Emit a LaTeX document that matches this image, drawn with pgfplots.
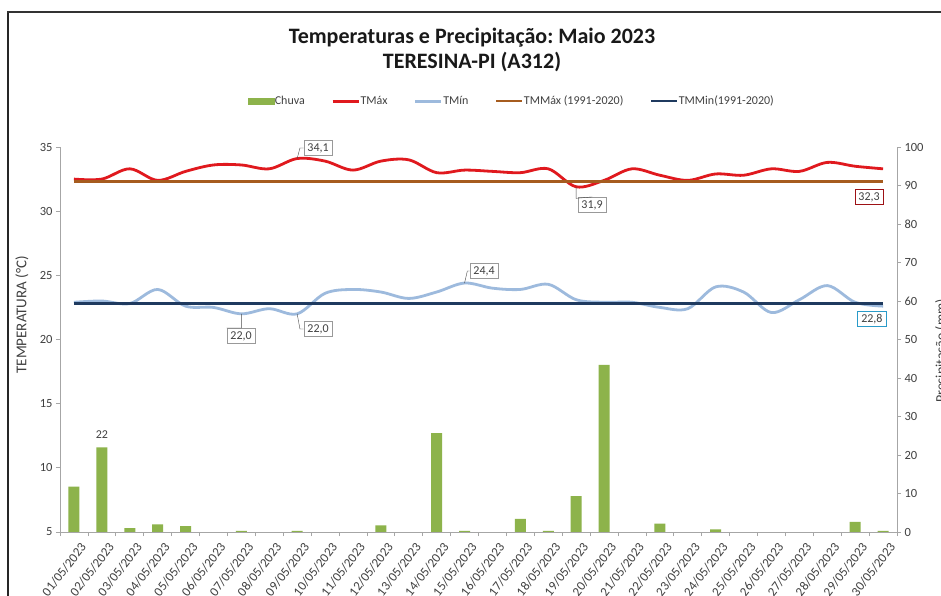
\documentclass[border=0pt]{standalone}
\usepackage{fontspec}
\setmainfont{Carlito}
\usepackage{pgfplots}
\usepackage{pgfplotstable}
\pgfplotsset{compat=1.18}
\frenchspacing

\definecolor{chuva}{HTML}{8DB34B}
\definecolor{tmax}{HTML}{E0191E}
\definecolor{tmin}{HTML}{9DBADD}
\definecolor{tmmax}{HTML}{A65C1F}
\definecolor{tmmin}{HTML}{1F3A5F}
\definecolor{eixo}{HTML}{A6A6A6}
\definecolor{txt}{HTML}{404040}

% dia, chuva (mm), TMax, TMin
\pgfplotstableread{
dia chuva tmax tmin
1  11.8 32.5 22.9
2  22.0 32.5 23.0
3  1.0  33.3 22.8
4  2.0  32.4 23.9
5  1.5  33.1 22.6
6  0.0  33.6 22.5
7  0.3  33.6 22.0
8  0.0  33.3 22.4
9  0.3  34.1 22.0
10 0.0  33.9 23.6
11 0.0  33.2 23.9
12 1.7  33.9 23.7
13 0.0  34.0 23.2
14 25.7 33.0 23.7
15 0.3  33.2 24.4
16 0.0  33.1 24.0
17 3.4  33.0 23.9
18 0.3  33.3 24.3
19 9.3  31.9 23.1
20 43.4 32.4 22.9
21 0.0  33.3 22.9
22 2.2  32.8 22.5
23 0.0  32.4 22.4
24 0.7  32.9 24.1
25 0.0  32.8 23.7
26 0.0  33.3 22.1
27 0.0  33.1 23.1
28 0.0  33.8 24.2
29 2.6  33.5 22.9
30 0.3  33.3 22.6
}\dados

\pgfplotsset{
  base/.style={
    at={(60pt,63pt)}, anchor=south west,
    scale only axis, width=837pt, height=385pt,
    xmin=0.5, xmax=30.5,
    tick align=outside,
    major tick length=4pt, minor tick length=4pt,
    tick style={eixo, line width=0.8pt},
    axis line style={eixo, line width=0.9pt},
    tick label style={font=\fontsize{12.5}{14}\selectfont, text=txt},
    /pgf/number format/assume math mode=true,
    clip=false,
  },
}
\tikzset{
  rotulo/.style={draw=gray!80, fill=white, font=\fontsize{12}{14}\selectfont,
    text=txt, inner xsep=3.5pt, inner ysep=3pt, line width=0.8pt},
}

\begin{document}
\begin{tikzpicture}
\useasboundingbox (0pt,0pt) rectangle (941pt,595pt);
\fill[white] (0pt,0pt) rectangle (941pt,595pt);
\draw[line width=2.5pt, black!85] (8pt,-2pt) -- (8pt,583pt);
\draw[line width=1.5pt, black!80] (7pt,583pt) -- (943pt,583pt);

\node[font=\bfseries\fontsize{22}{26}\selectfont, text=black!90] at (472pt,557pt)
  {Temperaturas e Precipitação: Maio 2023};
\node[font=\bfseries\fontsize{22}{26}\selectfont, text=black!90] at (472pt,533pt)
  {TERESINA-PI (A312)};

% eixo secundario: precipitacao
\begin{axis}[base,
  ymin=0, ymax=100,
  hide x axis,
  axis y line*=right,
  ytick={0,10,...,100},
  every axis y label/.style={at={(axis description cs:1.053,0.47)}, anchor=center, rotate=90},
  ylabel={\fontsize{14}{16}\selectfont\color{txt}Precipitação (mm)},
]
\addplot[ybar, bar width=11pt, fill=chuva, draw=none] table[x=dia, y=chuva] {\dados};
\node[font=\fontsize{12}{14}\selectfont, text=txt] at (axis cs:2,25.4) {22};
\end{axis}

% eixo principal: temperaturas
\begin{axis}[base,
  ymin=5, ymax=35,
  axis y line*=left, axis x line*=bottom,
  ytick={5,10,...,35},
  xtick={1,...,30},
  xticklabels={01/05/2023,02/05/2023,03/05/2023,04/05/2023,05/05/2023,06/05/2023,
    07/05/2023,08/05/2023,09/05/2023,10/05/2023,11/05/2023,12/05/2023,13/05/2023,
    14/05/2023,15/05/2023,16/05/2023,17/05/2023,18/05/2023,19/05/2023,20/05/2023,
    21/05/2023,22/05/2023,23/05/2023,24/05/2023,25/05/2023,26/05/2023,27/05/2023,
    28/05/2023,29/05/2023,30/05/2023},
  x tick label style={rotate=52, anchor=north east, inner sep=1pt, yshift=-7pt,
    font=\fontsize{13}{15}\selectfont},
  major x tick style={draw=none},
  minor xtick={0.5,1.5,...,30.5},
  every axis y label/.style={at={(axis description cs:-0.0454,0.564)}, anchor=center, rotate=90},
  ylabel={\fontsize{15}{17}\selectfont\color{txt}TEMPERATURA (°C)},
  legend columns=5,
  legend style={draw=none, fill=none, at={(axis description cs:0.539,1.119)}, anchor=center,
    font=\fontsize{12}{14}\selectfont, text=txt,
    nodes={inner sep=0.5pt},
    /tikz/every even column/.append style={column sep=26pt}},
  legend image code/.code={\draw[#1] (0pt,0pt) -- (26pt,0pt);},
]
\addlegendimage{legend image code/.code={\fill[chuva] (0pt,-3pt) rectangle (26pt,3pt);}}
\addlegendentry{Chuva}
\addplot[tmax, line width=2.8pt, smooth, tension=0.55] table[x=dia, y=tmax] {\dados};
\addlegendentry{TMáx}
\addplot[tmin, line width=2.8pt, smooth, tension=0.55] table[x=dia, y=tmin] {\dados};
\addlegendentry{TMín}
\addplot[tmmax, line width=2.4pt] coordinates {(1,32.3) (30,32.3)};
\addlegendentry{TMMáx (1991-2020)}
\addplot[tmmin, line width=2.4pt] coordinates {(1,22.8) (30,22.8)};
\addlegendentry{TMMin(1991-2020)}

\node[rotulo] (a) at (axis cs:9.75,34.92) {34,1};
\draw[gray!60!black, thin] (axis cs:9,34.1) -- (axis cs:9.1,34.92) -- (a.west);
\node[rotulo] (b) at (axis cs:6.99,20.27) {22,0};
\draw[gray!60!black, thin] (axis cs:7,22.0) -- (axis cs:7,20.9) -- (b.north west);
\node[rotulo] (c) at (axis cs:9.75,20.82) {22,0};
\draw[gray!60!black, thin] (axis cs:9,22.0) -- (axis cs:9.1,20.82) -- (c.west);
\node[rotulo] (d) at (axis cs:15.7,25.34) {24,4};
\draw[gray!60!black, thin] (axis cs:15,24.4) -- (axis cs:15.1,25.34) -- (d.west);
\node[rotulo] (e) at (axis cs:19.57,30.48) {31,9};
\draw[gray!60!black, thin] (axis cs:19,31.9) -- (axis cs:19,31.0) -- (e.north);
\node[rotulo, draw=tmax!70!black] at (axis cs:29.5,31.1) {32,3};
\node[rotulo, draw=cyan!60!teal] at (axis cs:29.6,21.6) {22,8};
\end{axis}
\end{tikzpicture}
\end{document}
